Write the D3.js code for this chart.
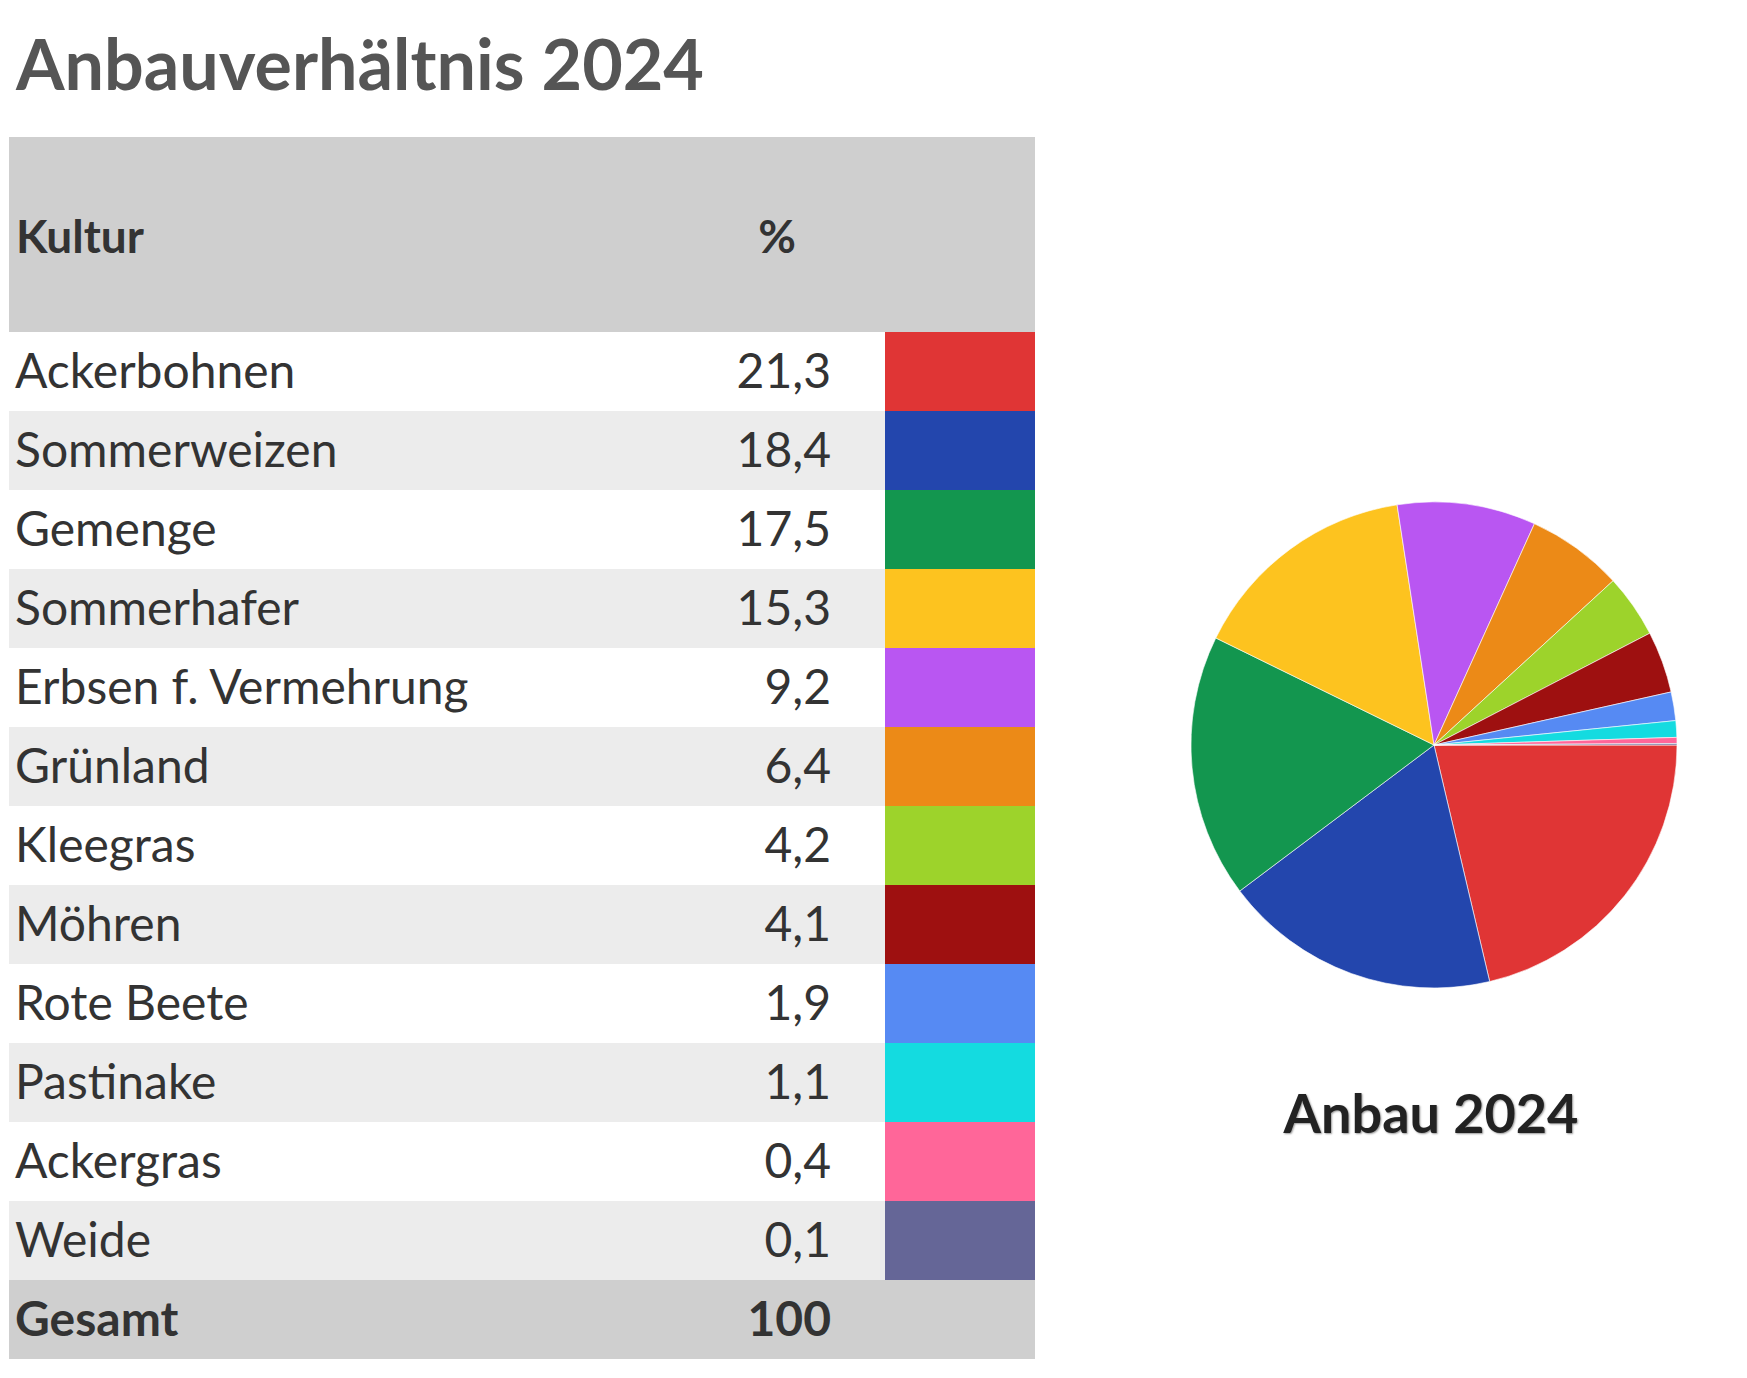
<!DOCTYPE html><html><head><meta charset="utf-8">
<script src="https://cdn.jsdelivr.net/npm/d3@7"></script>
<style>body{margin:0;background:#fff}</style></head><body>
<svg id="c" width="1747" height="1378"></svg>
<script>
const categories=["Ackerbohnen","Sommerweizen","Gemenge","Sommerhafer","Erbsen f. Vermehrung","Grünland","Kleegras","Möhren","Rote Beete","Pastinake","Ackergras","Weide"];
const values=[21.3,18.4,17.5,15.3,9.2,6.4,4.2,4.1,1.9,1.1,0.4,0.1];
const labels=["21,3","18,4","17,5","15,3","9,2","6,4","4,2","4,1","1,9","1,1","0,4","0,1"];
const colors=["#e03535","#2346ad","#13964f","#fdc31f","#b956f2","#ec8a17","#9dd32b","#9e1010","#568af3","#14dbe0","#ff6699","#656697"];
const totalLabel="100";
(function(){
const svg=d3.select("#c");
const F="'Source Sans Pro','Lato','Liberation Sans Narrow',sans-serif";
svg.append("text").attr("x",16).attr("y",90).attr("font-family",F).attr("font-weight",700).attr("font-size",70).attr("fill","#555").text("Anbauverhältnis 2024");
const x0=9,x1=1035,rowH=79,topY=332;
svg.append("rect").attr("x",x0).attr("y",137).attr("width",x1-x0).attr("height",topY-137).attr("fill","#cfcfcf");
svg.append("text").attr("x",16).attr("y",253).attr("font-family",F).attr("font-weight",700).attr("font-size",46).attr("fill","#333").text("Kultur");
svg.append("text").attr("x",777).attr("y",253).attr("text-anchor","middle").attr("font-family",F).attr("font-weight",700).attr("font-size",46).attr("fill","#333").text("%");
const y=d3.scaleBand().domain(categories).range([topY,topY+rowH*categories.length]);
const g=svg.selectAll("g.r").data(categories).join("g");
g.append("rect").attr("x",x0).attr("y",d=>y(d)).attr("width",885-x0).attr("height",y.bandwidth()).attr("fill",(d,i)=>i%2?"#ececec":"#fff");
g.append("rect").attr("x",885).attr("y",d=>y(d)).attr("width",x1-885).attr("height",y.bandwidth()).attr("fill",(d,i)=>colors[i]);
g.append("text").attr("x",15).attr("y",d=>y(d)+y.bandwidth()/2+16).attr("font-family",F).attr("font-size",48).attr("fill","#333").text(d=>d);
g.append("text").attr("x",831).attr("y",d=>y(d)+y.bandwidth()/2+16).attr("text-anchor","end").attr("font-family",F).attr("font-size",48).attr("fill","#333").text((d,i)=>labels[i]);
const ty=topY+rowH*categories.length;
svg.append("rect").attr("x",x0).attr("y",ty).attr("width",x1-x0).attr("height",rowH).attr("fill","#cfcfcf");
svg.append("text").attr("x",15).attr("y",ty+rowH/2+16).attr("font-family",F).attr("font-weight",700).attr("font-size",48).attr("fill","#333").text("Gesamt");
svg.append("text").attr("x",831).attr("y",ty+rowH/2+16).attr("text-anchor","end").attr("font-family",F).attr("font-weight",700).attr("font-size",48).attr("fill","#333").text(totalLabel);
const pie=d3.pie().sort(null).startAngle(Math.PI/2).endAngle(Math.PI/2+2*Math.PI);
const arc=d3.arc().innerRadius(0).outerRadius(243);
svg.append("g").attr("transform","translate(1434,745)").selectAll("path").data(pie(values)).join("path").attr("d",arc).attr("fill",(d,i)=>colors[i]).attr("stroke","#fff").attr("stroke-width",0.6);
svg.append("text").attr("x",1431).attr("y",1133).attr("text-anchor","middle").attr("font-family",F).attr("font-weight",700).attr("font-size",54).attr("fill","#222").attr("style","text-shadow:1px 1px 2px #999").text("Anbau 2024");
})();
</script></body></html>
